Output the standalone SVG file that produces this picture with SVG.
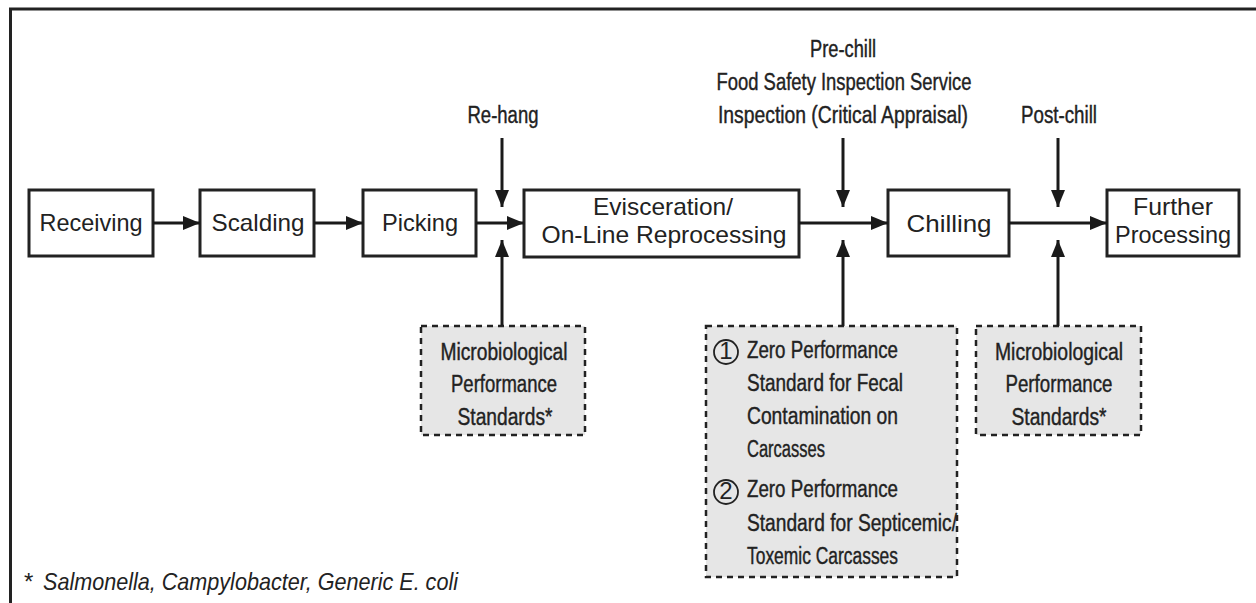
<svg xmlns="http://www.w3.org/2000/svg" width="1256" height="603" viewBox="0 0 1256 603">
<defs>
<marker id="ah" viewBox="0 0 17 14" refX="17" refY="7" markerWidth="17" markerHeight="14" markerUnits="userSpaceOnUse" orient="auto">
<path d="M0,0 L17,7 L0,14 Z" fill="#1a1a1a"/>
</marker>
<style>
.box{fill:#fff;stroke:#222;stroke-width:3}
.dbox{fill:#e6e6e6;stroke:#222;stroke-width:2.5;stroke-dasharray:6 5}
.t{font-family:"Liberation Sans",Arial,sans-serif;font-size:24px;fill:#222;text-anchor:middle}
.c{font-family:"Liberation Sans",Arial,sans-serif;font-size:23px;fill:#222;stroke:#222;stroke-width:0.4;text-anchor:middle}
.l{font-family:"Liberation Sans",Arial,sans-serif;font-size:23px;fill:#222;stroke:#222;stroke-width:0.4}
.conn{stroke:#1a1a1a;stroke-width:3;fill:none;marker-end:url(#ah)}
</style>
</defs>
<rect width="1256" height="603" fill="#fff"/>
<path d="M10.5,603 V9 H1256" fill="none" stroke="#222" stroke-width="3"/>

<g id="receiving"><rect class="box" x="29" y="190" width="124" height="66"/><text class="t" x="91" y="231" textLength="103" lengthAdjust="spacingAndGlyphs">Receiving</text></g>
<g id="scalding"><rect class="box" x="200" y="190" width="114" height="66"/><text class="t" x="258" y="231" textLength="93" lengthAdjust="spacingAndGlyphs">Scalding</text></g>
<g id="picking"><rect class="box" x="363" y="190" width="113" height="66"/><text class="t" x="420" y="231" textLength="76" lengthAdjust="spacingAndGlyphs">Picking</text></g>
<g id="evisceration"><rect class="box" x="524" y="190" width="275" height="67"/><text class="t" x="663" y="215" textLength="140" lengthAdjust="spacingAndGlyphs">Evisceration/</text><text class="t" x="664" y="243" textLength="245" lengthAdjust="spacingAndGlyphs">On-Line Reprocessing</text></g>
<g id="chilling"><rect class="box" x="888" y="190" width="121" height="66"/><text class="t" x="949" y="232" textLength="85" lengthAdjust="spacingAndGlyphs">Chilling</text></g>
<g id="further"><rect class="box" x="1107" y="190" width="132" height="66"/><text class="t" x="1173" y="215" textLength="80" lengthAdjust="spacingAndGlyphs">Further</text><text class="t" x="1173" y="243" textLength="116" lengthAdjust="spacingAndGlyphs">Processing</text></g>

<g id="rehang"><text class="c" x="503" y="123" textLength="71" lengthAdjust="spacingAndGlyphs">Re-hang</text></g>
<g id="prechill"><text class="c" x="843" y="57" textLength="66" lengthAdjust="spacingAndGlyphs">Pre-chill</text><text class="c" x="844" y="90" textLength="255" lengthAdjust="spacingAndGlyphs">Food Safety Inspection Service</text><text class="c" x="843" y="123" textLength="250" lengthAdjust="spacingAndGlyphs">Inspection (Critical Appraisal)</text></g>
<g id="postchill"><text class="c" x="1059" y="123" textLength="76" lengthAdjust="spacingAndGlyphs">Post-chill</text></g>

<g id="micro1"><rect class="dbox" x="421" y="326" width="164" height="109"/><text class="c" x="504" y="360" textLength="127" lengthAdjust="spacingAndGlyphs">Microbiological</text><text class="c" x="504" y="392" textLength="106" lengthAdjust="spacingAndGlyphs">Performance</text><text class="c" x="505" y="425" textLength="95" lengthAdjust="spacingAndGlyphs">Standards*</text></g>
<g id="zero"><rect class="dbox" x="706" y="326" width="251" height="251"/>
<circle cx="726" cy="352" r="12" fill="none" stroke="#222" stroke-width="1.8"/><text class="t" x="726" y="359" font-size="19">1</text>
<circle cx="726" cy="492" r="12" fill="none" stroke="#222" stroke-width="1.8"/><text class="t" x="726" y="499" font-size="19">2</text>
<text class="l" x="747" y="358" textLength="151" lengthAdjust="spacingAndGlyphs">Zero Performance</text>
<text class="l" x="747" y="391" textLength="156" lengthAdjust="spacingAndGlyphs">Standard for Fecal</text>
<text class="l" x="747" y="424" textLength="151" lengthAdjust="spacingAndGlyphs">Contamination on</text>
<text class="l" x="747" y="457" textLength="78" lengthAdjust="spacingAndGlyphs">Carcasses</text>
<text class="l" x="747" y="497" textLength="151" lengthAdjust="spacingAndGlyphs">Zero Performance</text>
<text class="l" x="747" y="531" textLength="210" lengthAdjust="spacingAndGlyphs">Standard for Septicemic/</text>
<text class="l" x="747" y="564" textLength="151" lengthAdjust="spacingAndGlyphs">Toxemic Carcasses</text></g>
<g id="micro2"><rect class="dbox" x="976" y="326" width="165" height="109"/><text class="c" x="1059" y="360" textLength="128" lengthAdjust="spacingAndGlyphs">Microbiological</text><text class="c" x="1059" y="392" textLength="107" lengthAdjust="spacingAndGlyphs">Performance</text><text class="c" x="1059" y="425" textLength="95" lengthAdjust="spacingAndGlyphs">Standards*</text></g>

<g id="footnote"><text x="24" y="590" font-family="'Liberation Sans',Arial,sans-serif" font-size="24" fill="#222">* </text><text x="43" y="590" font-family="'Liberation Sans',Arial,sans-serif" font-size="24" font-style="italic" fill="#222" textLength="415" lengthAdjust="spacingAndGlyphs">Salmonella, Campylobacter, Generic E. coli</text></g>

<g id="connectors">
<line class="conn" x1="153" y1="223" x2="200" y2="223"/>
<line class="conn" x1="314" y1="223" x2="363" y2="223"/>
<line class="conn" x1="476" y1="223" x2="524" y2="223"/>
<line class="conn" x1="799" y1="223" x2="888" y2="223"/>
<line class="conn" x1="1009" y1="223" x2="1107" y2="223"/>
<line class="conn" x1="502" y1="138" x2="502" y2="207"/>
<line class="conn" x1="843" y1="138" x2="843" y2="207"/>
<line class="conn" x1="1058" y1="138" x2="1058" y2="207"/>
<line class="conn" x1="502" y1="326" x2="502" y2="240"/>
<line class="conn" x1="843" y1="326" x2="843" y2="240"/>
<line class="conn" x1="1058" y1="326" x2="1058" y2="240"/>
</g>
</svg>
